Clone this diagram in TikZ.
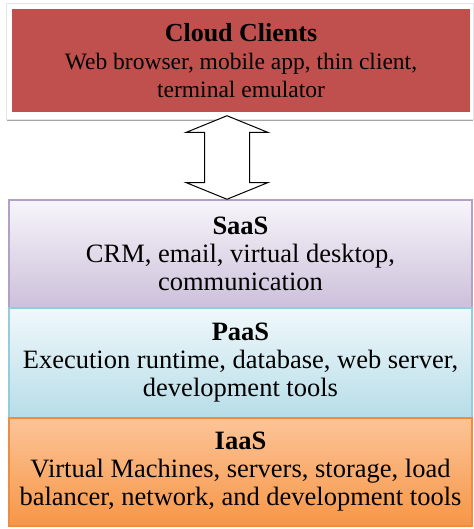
\documentclass[tikz,border=0pt]{standalone}
\usepackage{fontspec}
\setmainfont{Liberation Serif}
\usetikzlibrary{calc}

\definecolor{clientred}{RGB}{192,80,77}
\definecolor{saastop}{RGB}{247,245,250}
\definecolor{saasbot}{RGB}{204,192,218}
\definecolor{saasline}{RGB}{178,161,199}
\definecolor{paastop}{RGB}{240,248,251}
\definecolor{paasbot}{RGB}{183,221,232}
\definecolor{paasline}{RGB}{147,205,221}
\definecolor{iaastop}{RGB}{251,196,152}
\definecolor{iaasbot}{RGB}{247,150,70}
\definecolor{iaasline}{RGB}{240,140,60}

\begin{document}
\begin{tikzpicture}[x=1pt,y=1pt,
	layer/.style={rectangle, inner sep=0pt, align=center, line width=1.5pt,
		minimum width=463pt, font=\fontsize{26.5}{28}\selectfont},
	layerarrow/.style={draw=black, fill=white, line width=1pt, line join=miter}]
		\useasboundingbox (0,0) rectangle (473,-529);
		
		% draw client frame with shadow
		\draw[black!35, line width=2pt] (7,-120) -- (473,-120);
		\node[rectangle, fill=white, draw=black!10, minimum width=467pt, minimum height=116pt] (frame) at (240,-61) {};
		
		% draw client box
		\node[layer, fill=clientred, minimum width=458pt, minimum height=103pt,
			font=\fontsize{23.5}{28}\selectfont] (clients) at (241,-60.5)
		{{\fontsize{26}{28}\selectfont\textbf{Cloud Clients}}\\Web browser, mobile app, thin client,\\terminal emulator};
		
		% draw service layers
		\node[layer, top color=saastop, bottom color=saasbot, draw=saasline, minimum height=108pt] (saas) at (240.5,-254)
		{\textbf{SaaS}\\CRM, email, virtual desktop,\\communication};
		\node[layer, top color=paastop, bottom color=paasbot, draw=paasline, minimum height=110pt] (paas) at (240.5,-363)
		{\textbf{PaaS}\\Execution runtime, database, web server,\\development tools};
		\node[layer, top color=iaastop, bottom color=iaasbot, draw=iaasline, minimum height=108pt] (iaas) at (240.5,-472)
		{\textbf{IaaS}\\Virtual Machines, servers, storage, load\\balancer, network, and development tools};
		
		% draw arrow between clients and services
		\coordinate (up) at ($(clients.south)+(-14,-3)$);
		\coordinate (down) at ($(saas.north)+(-13.5,0)$);
		\draw[layerarrow] (up) -- ++(41,-16.7) -- ++(-18.5,0) |- ($(down)+(22.5,16.7)$)
			-- ++(18.5,0) -- (down) -- ++(-41,16.7) -- ++(18.5,0) |- ($(up)+(-22.5,-16.7)$)
			-- ++(-18.5,0) -- cycle;
		\end{tikzpicture}
\end{document}
